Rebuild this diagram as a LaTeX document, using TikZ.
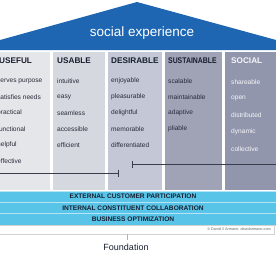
\documentclass[tikz,border=0pt]{standalone}
\usepackage{fontspec}
\setmainfont{Liberation Sans}
\usepackage{tikz}
\usetikzlibrary{arrows.meta}
\usetikzlibrary{positioning}
\definecolor{roofblue}{RGB}{30,102,178}
\definecolor{usefulgray}{RGB}{229,230,234}
\definecolor{usablegray}{RGB}{214,216,224}
\definecolor{desiregray}{RGB}{196,199,213}
\definecolor{sustaingray}{RGB}{160,162,182}
\definecolor{socialgray}{RGB}{146,150,173}
\definecolor{navytext}{RGB}{24,30,46}
\definecolor{itemtext}{RGB}{40,44,58}
\definecolor{bandcyan}{RGB}{88,196,232}
\definecolor{linegray}{RGB}{58,62,76}

\begin{document}
\begin{tikzpicture}[x=1pt,y=-1pt,
    colbox/.style={anchor=north west,inner sep=0pt,minimum height=138pt},
    hdr/.style={anchor=west,inner sep=0pt,text=navytext,
      font=\fontsize{8.2}{10}\selectfont\bfseries},
    item/.style={anchor=west,inner sep=0pt,text=itemtext,
      font=\fontsize{6.6}{8}\selectfont},
    band/.style={fill=bandcyan,draw=white!55!bandcyan,line width=0.8pt,
      minimum width=300pt,minimum height=11.3pt,inner sep=0pt,text=navytext,
      font=\fontsize{6.6}{7}\selectfont\bfseries}]
    \useasboundingbox (0,0) rectangle (276,252);
    \clip (0,0) rectangle (276,252);
    % roof
    \fill[roofblue] (137,2) -- (-10,42.8) -- (-10,50) -- (286,50) -- (286,42.7) -- cycle;
    \node[text=white,font=\fontsize{13.5}{15}\selectfont] (roof) at (142,33) {social experience};
    % pillars
    \node[colbox,fill=usefulgray,minimum width=52pt] (useful) at (-2,52) {};
    \node[colbox,fill=usablegray,minimum width=52pt] (usable) at (53,52) {};
    \node[colbox,fill=desiregray,minimum width=54pt] (desirable) at (108,52) {};
    \node[colbox,fill=sustaingray,minimum width=57pt] (sustainable) at (165,52) {};
    \node[colbox,fill=socialgray,minimum width=55pt] (social) at (225,52) {};
    \node[hdr] (h1) at (-1,61) {USEFUL};
    \node[hdr] (h2) at (57,61) {USABLE};
    \node[hdr] (h3) at (111,61) {DESIRABLE};
    \node[hdr,xscale=0.84] (h4) at (168,61) {SUSTAINABLE};
    \node[hdr,text=white!92!socialgray] (h5) at (231,61) {SOCIAL};
    \foreach \t [count=\i] in {serves purpose,satisfies needs,practical,functional,helpful,effective}
      \node[item] (a\i) at (-3,65+16*\i) {\t};
    \foreach \t [count=\i] in {intuitive,easy,seamless,accessible,efficient}
      \node[item] (b\i) at (57,65+16*\i) {\t};
    \foreach \t [count=\i] in {enjoyable,pleasurable,delightful,memorable,differentiated}
      \node[item] (c\i) at (111,65+16*\i) {\t};
    \foreach \t [count=\i] in {scalable,maintainable,adaptive,pliable}
      \node[item] (d\i) at (168,65+16*\i) {\t};
    \foreach \t [count=\i] in {shareable,open,distributed,dynamic,collective}
      \node[item,text=white!92!socialgray] (e\i) at (231,65+16.8*\i) {\t};
    % span markers
    \coordinate (spanAstart) at (-2,173);
    \coordinate (spanAend) at (119,173);
    \coordinate (spanBstart) at (132,164);
    \coordinate (spanBend) at (280,164);
    \draw[linegray,line width=0.7pt,-{Bar[width=7pt]}] (spanAstart) -- (spanAend);
    \draw[linegray,line width=0.7pt,{Bar[width=7pt]}-] (spanBstart) -- (spanBend);
    % foundation bands
    \node[band] (ext) at (133,196.7) {EXTERNAL CUSTOMER PARTICIPATION};
    \node[band] (int) at (133,208) {INTERNAL CONSTITUENT COLLABORATION};
    \node[band] (biz) at (133,219.3) {BUSINESS OPTIMIZATION};
    \node[anchor=north west,draw=gray!35,fill=white,minimum width=276pt,
      minimum height=9pt,inner sep=0pt] (strip) at (-2,225) {};
    \node[anchor=east,inner sep=0pt,text=gray!80!black,font=\fontsize{3.8}{4}\selectfont]
      (copy) at (271,229.5) {\textcopyright{} David // Armano\ \ davidarmano.com};
    \node[text=navytext,font=\fontsize{9}{10}\selectfont] (found) at (126,247) {Foundation};
    \coordinate (tick) at (127,234);
    \draw[gray!60,line width=0.6pt] (tick) -- (tick |- found.north);
\end{tikzpicture}
\end{document}
